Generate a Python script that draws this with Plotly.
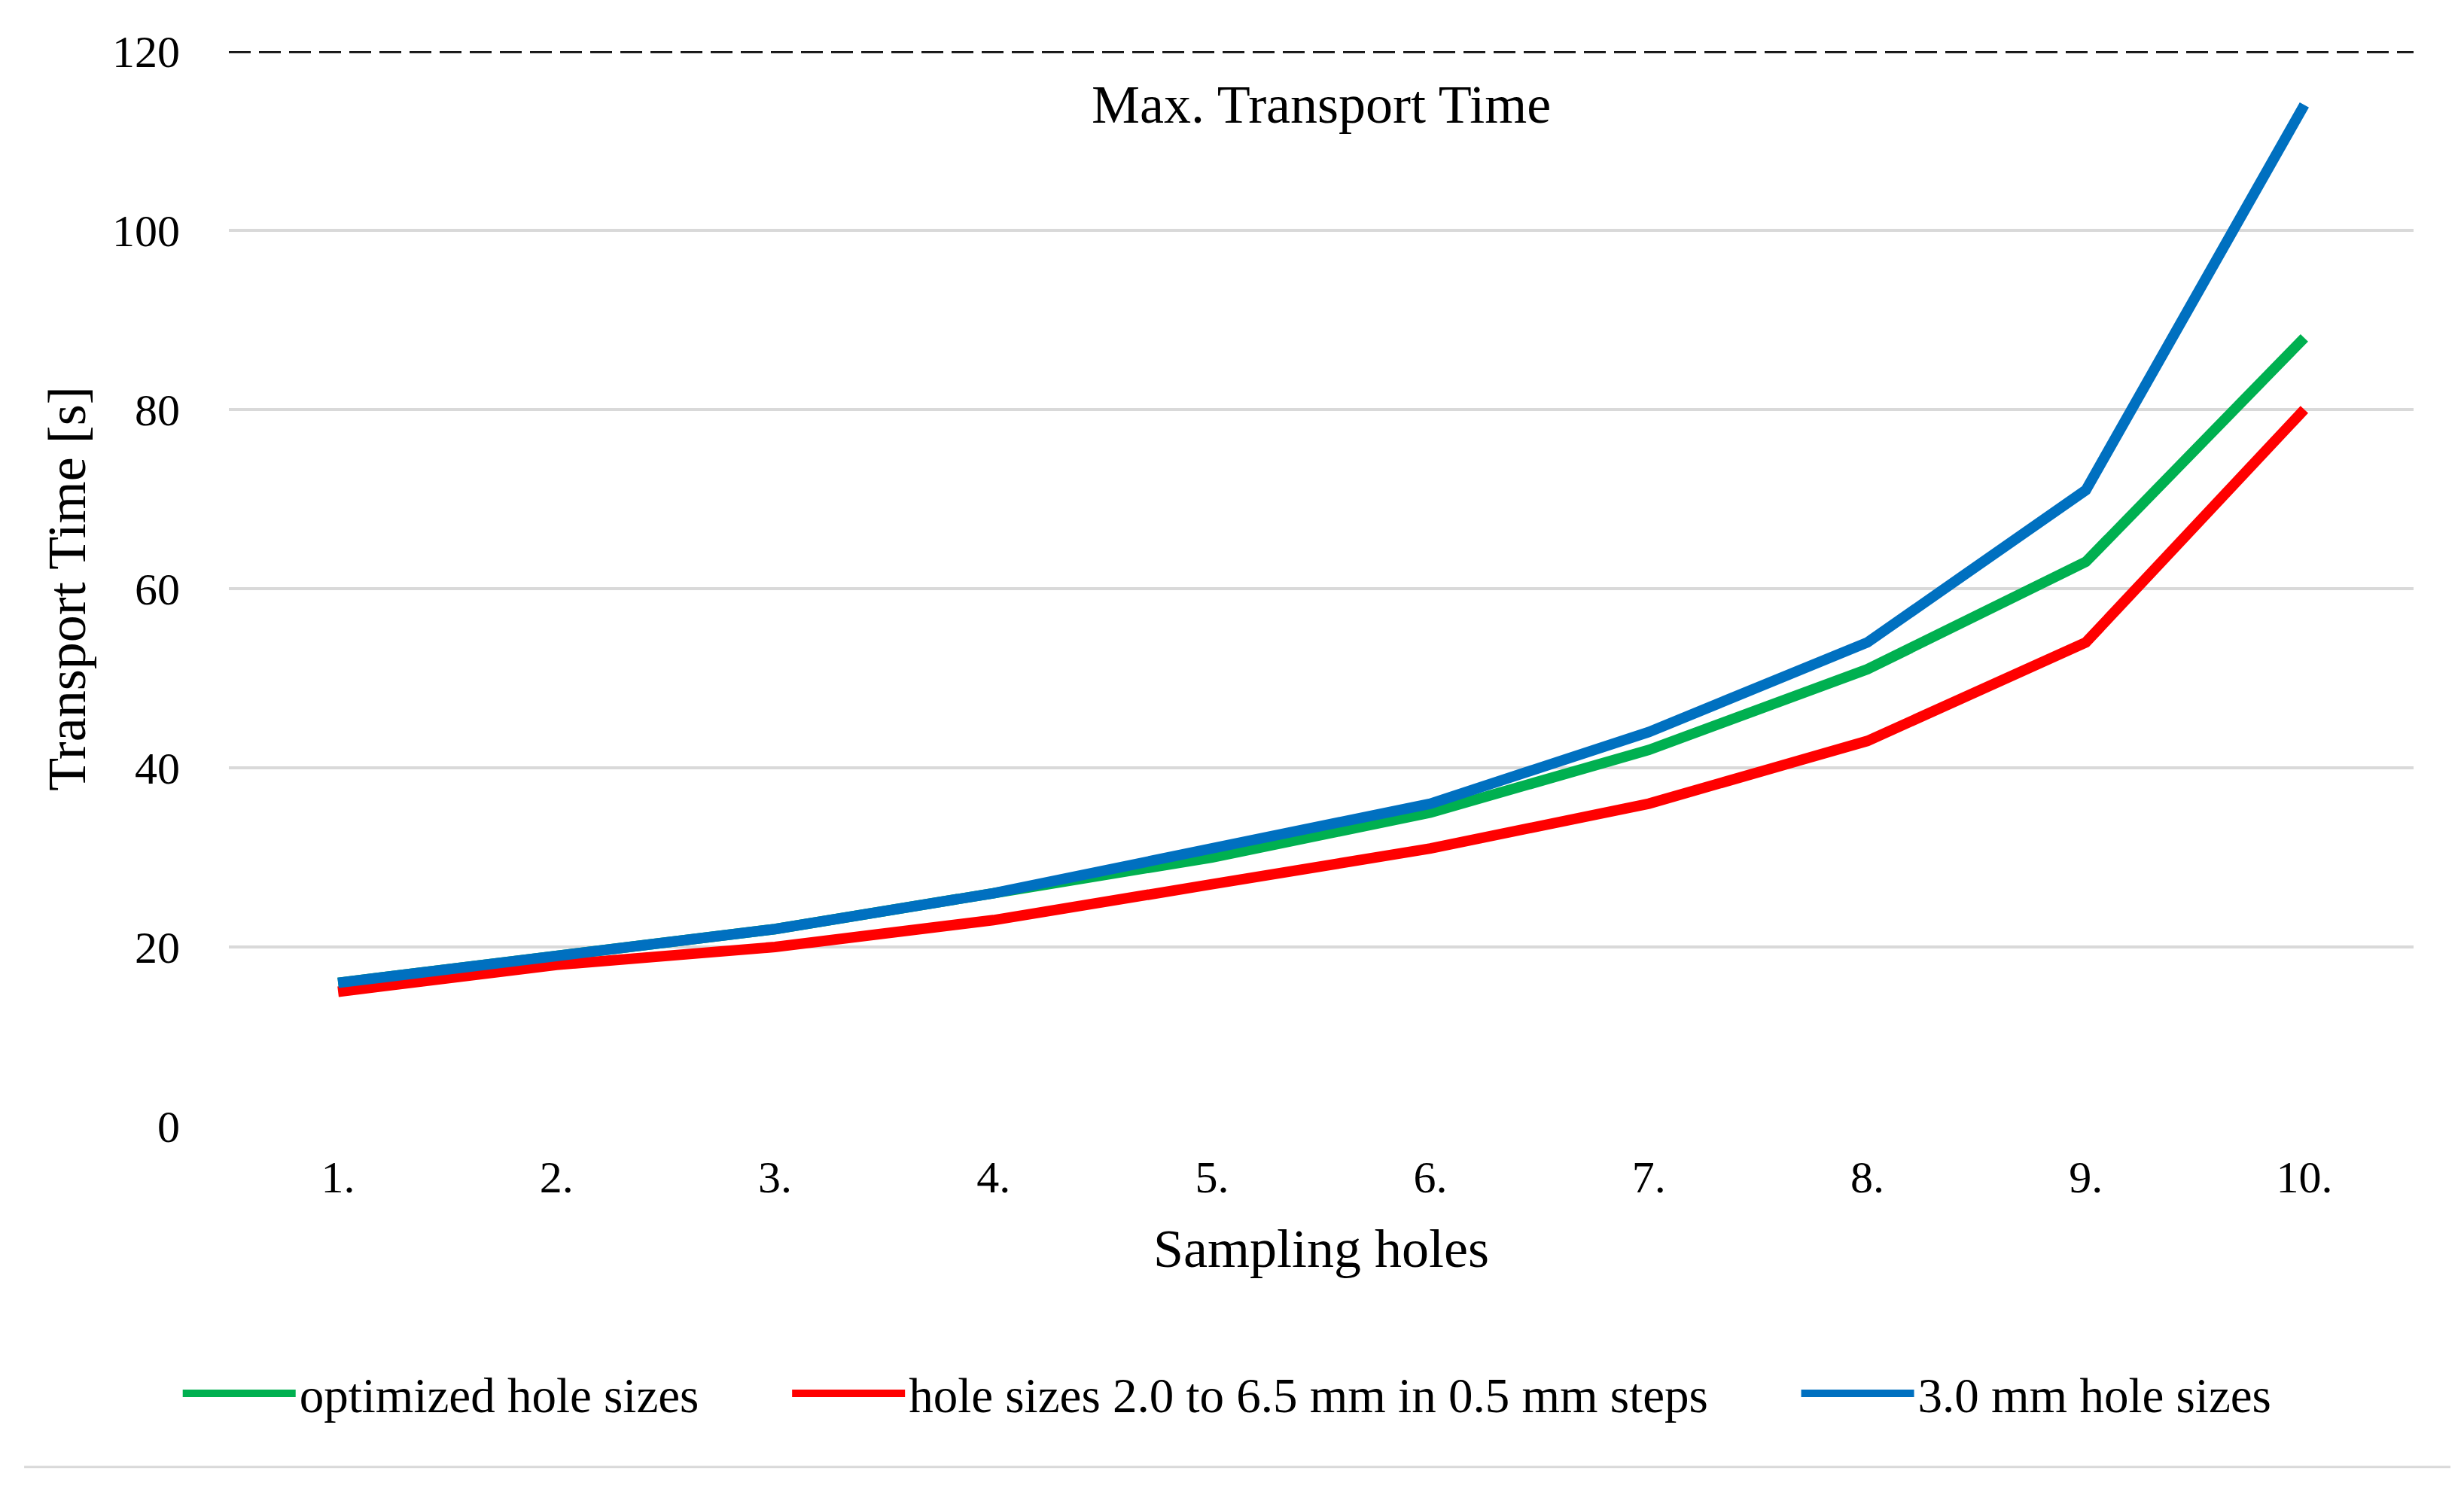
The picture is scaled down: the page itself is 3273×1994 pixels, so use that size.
import plotly.graph_objects as go

# ---- data ----
holes = ["1.", "2.", "3.", "4.", "5.", "6.", "7.", "8.", "9.", "10."]
optimized = [16, 19, 22, 26, 30, 35, 42, 51, 63, 88]
stepped = [15, 18, 20, 23, 27, 31, 36, 43, 54, 80]
uniform_3mm = [16, 19, 22, 26, 31, 36, 44, 54, 71, 114]
max_transport_time = 120
y_ticks = [0, 20, 40, 60, 80, 100, 120]

names = ["optimized hole sizes", "hole sizes 2.0 to 6.5 mm in 0.5 mm steps", "3.0 mm hole sizes"]
colors = ["#00B050", "#FF0000", "#0070C0"]
series = [optimized, stepped, uniform_3mm]

FONT = "Liberation Serif, Times New Roman, serif"
# page body has an 8px default margin; compensate so the plot lands where the reference has it
W, H = 3257, 1978
L, R, T, B = 296, 59, 60, 490

PAD = "\u00a0" * 7
fig = go.Figure()
for i, (name, color, vals) in enumerate(zip(names, colors, series)):
    label = name + (PAD if i < len(names) - 1 else "")
    fig.add_trace(go.Scatter(
        x=holes, y=vals, name=label, mode="lines",
        line=dict(color=color, width=14),
    ))

# maximum transport time reference line
fig.add_shape(type="line", xref="paper", x0=0, x1=1, yref="y",
              y0=max_transport_time, y1=max_transport_time,
              line=dict(color="black", width=5, dash="29px,11px"), layer="above")
fig.add_annotation(text="Max. Transport Time", xref="paper", x=0.5, yref="y",
                   y=max_transport_time - 6, showarrow=False,
                   font=dict(family=FONT, size=72, color="black"))

# light grey chart border (bottom visible)
fig.add_shape(type="line", xref="paper", yref="paper", x0=-0.0937, x1=1.0169,
              y0=-0.317, y1=-0.317, line=dict(color="#d9d9d9", width=3))

fig.update_layout(
    width=W, height=H,
    margin=dict(l=L, r=R, t=T, b=B, pad=0),
    paper_bgcolor="white", plot_bgcolor="white",
    font=dict(family=FONT, size=60, color="black"),
    showlegend=True,
    legend=dict(orientation="h", x=0.457, xanchor="center", y=-0.2488, yanchor="middle",
                font=dict(family=FONT, size=65, color="black"),
                itemwidth=150, bgcolor="rgba(0,0,0,0)"),
)
fig.update_xaxes(
    type="category", range=[-0.5, 9.5], showgrid=False, zeroline=False, showline=False,
    ticks="outside", ticklen=15, tickcolor="rgba(0,0,0,0)",
    tickfont=dict(family=FONT, size=60, color="black"),
    title=dict(text="Sampling holes", font=dict(family=FONT, size=72, color="black"), standoff=36),
)
fig.update_yaxes(
    range=[0, 120], tickvals=y_ticks, showgrid=True, gridcolor="#d9d9d9", gridwidth=4,
    zeroline=False, showline=False,
    ticks="outside", ticklen=52, tickcolor="rgba(0,0,0,0)",
    tickfont=dict(family=FONT, size=60, color="black"),
    title=dict(text="Transport Time [s]", font=dict(family=FONT, size=72, color="black"), standoff=11),
)

fig.write_html("out.html")
